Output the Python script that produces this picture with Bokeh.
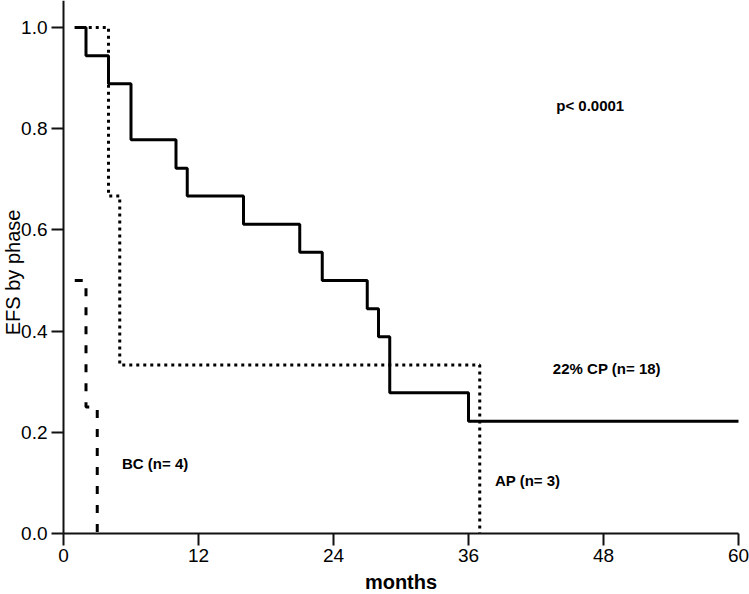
import math
from bokeh.plotting import figure
from bokeh.models import Label, FixedTicker, NumeralTickFormatter, Range1d
from bokeh.embed import file_html
from bokeh.resources import INLINE

# ---- data ----
cp_months = [1, 2, 4, 6, 10, 11, 16, 21, 23, 27, 28, 29, 36, 60]
cp_efs = [1.0, 0.944, 0.889, 0.778, 0.722, 0.667, 0.611, 0.556, 0.5, 0.444, 0.389, 0.278, 0.222, 0.222]

ap_months = [1, 4, 5, 37]
ap_efs = [1.0, 0.667, 0.333, 0.0]

bc_months = [1, 2, 3]
bc_efs = [0.5, 0.25, 0.0]

x_ticks = [0, 12, 24, 36, 48, 60]
y_ticks = [0.0, 0.2, 0.4, 0.6, 0.8, 1.0]

FONT = "Liberation Sans"

X_LO, X_HI = -5.6, 60.978
Y_LO, Y_HI = -0.1206, 1.0534

p = figure(width=749, height=594, output_backend="svg", toolbar_location=None,
           x_range=Range1d(X_LO, X_HI), y_range=Range1d(Y_LO, Y_HI),
           min_border=0, min_border_left=0, min_border_right=0,
           min_border_top=0, min_border_bottom=0)
p.background_fill_color = "white"
p.border_fill_color = "white"
p.outline_line_color = None
p.xgrid.visible = False
p.ygrid.visible = False

p.step(cp_months, cp_efs, mode="after", line_color="black", line_width=3)
p.step(ap_months, ap_efs, mode="after", line_color="black", line_width=3, line_dash="3 4")
p.step(bc_months, bc_efs, mode="after", line_color="black", line_width=3, line_dash="8 11")

for ax in (p.xaxis[0], p.yaxis[0]):
    ax.fixed_location = 0
    ax.axis_line_width = 2
    ax.axis_line_color = "#111111"
    ax.major_tick_line_width = 2
    ax.major_tick_line_color = "#111111"
    ax.major_tick_out = 12
    ax.major_tick_in = 0
    ax.minor_tick_line_color = None
    ax.major_label_text_font = FONT
    ax.major_label_text_font_size = "19px"
    ax.major_label_text_color = "black"
    ax.major_label_standoff = 4

p.xaxis.bounds = (0, 60)
p.yaxis.bounds = (0, Y_HI)
p.xaxis.ticker = FixedTicker(ticks=x_ticks)
p.yaxis.ticker = FixedTicker(ticks=y_ticks)
p.yaxis.formatter = NumeralTickFormatter(format="0.0")

def lab(x, y, text, size, bold=True, align="left", angle=0.0):
    p.add_layout(Label(x=x, y=y, text=text, text_font=FONT, text_font_size=size,
                       text_font_style="bold" if bold else "normal",
                       text_align=align, text_baseline="middle", angle=angle,
                       text_color="black"))

lab(43.8, 0.846, "p< 0.0001", "15px")
lab(43.5, 0.326, "22% CP (n= 18)", "15px")
lab(38.35, 0.105, "AP (n= 3)", "15px")
lab(5.2, 0.138, "BC (n= 4)", "15px")
lab(30, -0.095, "months", "20px", bold=True, align="center")
lab(-4.5, 0.516, "EFS by phase", "20px", bold=False, align="center", angle=math.pi / 2)

open("out.html", "w").write(file_html(p, INLINE))
